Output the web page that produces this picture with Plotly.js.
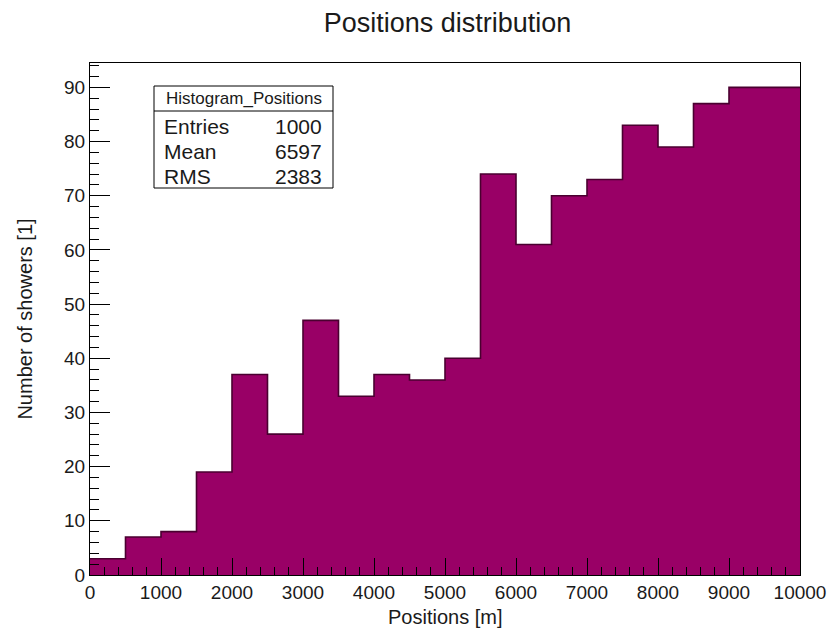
<!DOCTYPE html>
<html>
<head>
<meta charset="utf-8">
<script src="https://cdn.plot.ly/plotly-3.0.1.min.js"></script>
<style>
  html, body { margin: 0; padding: 0; background: #ffffff; }
  #chart { width: 831px; height: 633px; }
</style>
</head>
<body>
<div id="chart"></div>
<script>
// Histogram of shower positions: 20 bins of 500 m between 0 and 10000 m
const binLowEdges = [0, 500, 1000, 1500, 2000, 2500, 3000, 3500, 4000, 4500,
                     5000, 5500, 6000, 6500, 7000, 7500, 8000, 8500, 9000, 9500];
const binWidth = 500;
const counts = [3, 7, 8, 19, 37, 26, 47, 33, 37, 36,
                40, 74, 61, 70, 73, 83, 79, 87, 90, 90];

// Statistics box content
const statsTitle = "Histogram_Positions";
const statsLabels = ["Entries", "Mean", "RMS"];
const statsValues = ["1000", "6597", "2383"];

const xTickVals = [0, 1000, 2000, 3000, 4000, 5000, 6000, 7000, 8000, 9000, 10000];
const yTickVals = [0, 10, 20, 30, 40, 50, 60, 70, 80, 90];

// Step outline: edges with the last count repeated so the final bin closes
const edges = binLowEdges.concat([binLowEdges[binLowEdges.length - 1] + binWidth]);
const stepY = counts.concat([counts[counts.length - 1]]);

const fillColor = "#990066";
const edgeColor = "#4a0030";
const textColor = "#1a1a1a";
const font = "Liberation Sans, Arial, Helvetica, sans-serif";

const traces = [
  {
    type: "scatter",
    mode: "lines",
    x: edges,
    y: stepY,
    line: { shape: "hv", color: edgeColor, width: 1.6 },
    fill: "tozeroy",
    fillcolor: fillColor,
    hoverinfo: "skip",
    showlegend: false
  }
];

// Frame geometry in pixels, used to place the stats box in paper units
const L = 90, R = 31, T = 63, B = 58, W = 831, H = 633;
const pw = W - L - R, ph = H - T - B;
const px = v => (v - L) / pw;
const py = v => (H - B - v) / ph;

const boxX0 = 154, boxX1 = 333, boxY0 = 86, boxY1 = 188, sepY = 111;
const headerY = 98.5;
const rowY = [126.5, 151.5, 176.5];

const shapes = [
  { type: "rect", xref: "paper", yref: "paper",
    x0: px(boxX0), x1: px(boxX1), y0: py(boxY1), y1: py(boxY0),
    line: { color: "#000000", width: 1 }, fillcolor: "#ffffff", layer: "above" },
  { type: "line", xref: "paper", yref: "paper",
    x0: px(boxX0), x1: px(boxX1), y0: py(sepY), y1: py(sepY),
    line: { color: "#000000", width: 1 }, layer: "above" }
];

const annotations = [
  // x-axis title, centred under the frame
  { xref: "paper", yref: "paper", x: 0.5, y: py(616.5),
    text: "Positions [m]", showarrow: false, xanchor: "center", yanchor: "middle",
    font: { family: font, size: 20, color: textColor } },
  { xref: "paper", yref: "paper", x: px((boxX0 + boxX1) / 2), y: py(headerY),
    text: statsTitle, showarrow: false, xanchor: "center", yanchor: "middle",
    font: { family: font, size: 17, color: textColor } }
];
statsLabels.forEach((lab, i) => {
  annotations.push({ xref: "paper", yref: "paper", x: px(boxX0 + 8), y: py(rowY[i]),
    text: lab, showarrow: false, xanchor: "left", yanchor: "middle",
    font: { family: font, size: 21, color: textColor } });
  annotations.push({ xref: "paper", yref: "paper", x: px(boxX1 - 9), y: py(rowY[i]),
    text: statsValues[i], showarrow: false, xanchor: "right", yanchor: "middle",
    font: { family: font, size: 21, color: textColor } });
});

const layout = {
  width: W, height: H,
  margin: { l: L, r: R, t: T, b: B, pad: 0 },
  paper_bgcolor: "#ffffff",
  plot_bgcolor: "#ffffff",
  font: { family: font, color: textColor },
  title: { text: "Positions distribution", x: 0.5385, xanchor: "center",
           y: 0.964, yanchor: "middle", font: { family: font, size: 27, color: textColor } },
  xaxis: {
    range: [0, 10000],
    tickvals: xTickVals,
    ticktext: xTickVals.map(String),
    ticks: "inside", ticklen: 17, tickwidth: 1, tickcolor: "#000000",
    minor: { dtick: 200, tick0: 0, ticks: "inside", ticklen: 8, tickwidth: 1, tickcolor: "#000000", showgrid: false },
    showline: true, linecolor: "#000000", linewidth: 1, mirror: true,
    showgrid: false, zeroline: false,
    tickfont: { family: font, size: 19, color: textColor }
  },
  yaxis: {
    range: [0, 94.5],
    tickvals: yTickVals,
    ticktext: yTickVals.map(String),
    ticks: "inside", ticklen: 20, tickwidth: 1, tickcolor: "#000000",
    minor: { dtick: 2, tick0: 0, ticks: "inside", ticklen: 9, tickwidth: 1, tickcolor: "#000000", showgrid: false },
    showline: true, linecolor: "#000000", linewidth: 1, mirror: true,
    showgrid: false, zeroline: false,
    tickfont: { family: font, size: 19, color: textColor },
    title: { text: "Number of showers [1]", standoff: 26, font: { family: font, size: 20, color: textColor } }
  },
  shapes: shapes,
  annotations: annotations,
  showlegend: false
};

Plotly.newPlot("chart", traces, layout, { displayModeBar: false, staticPlot: true });
</script>
</body>
</html>
